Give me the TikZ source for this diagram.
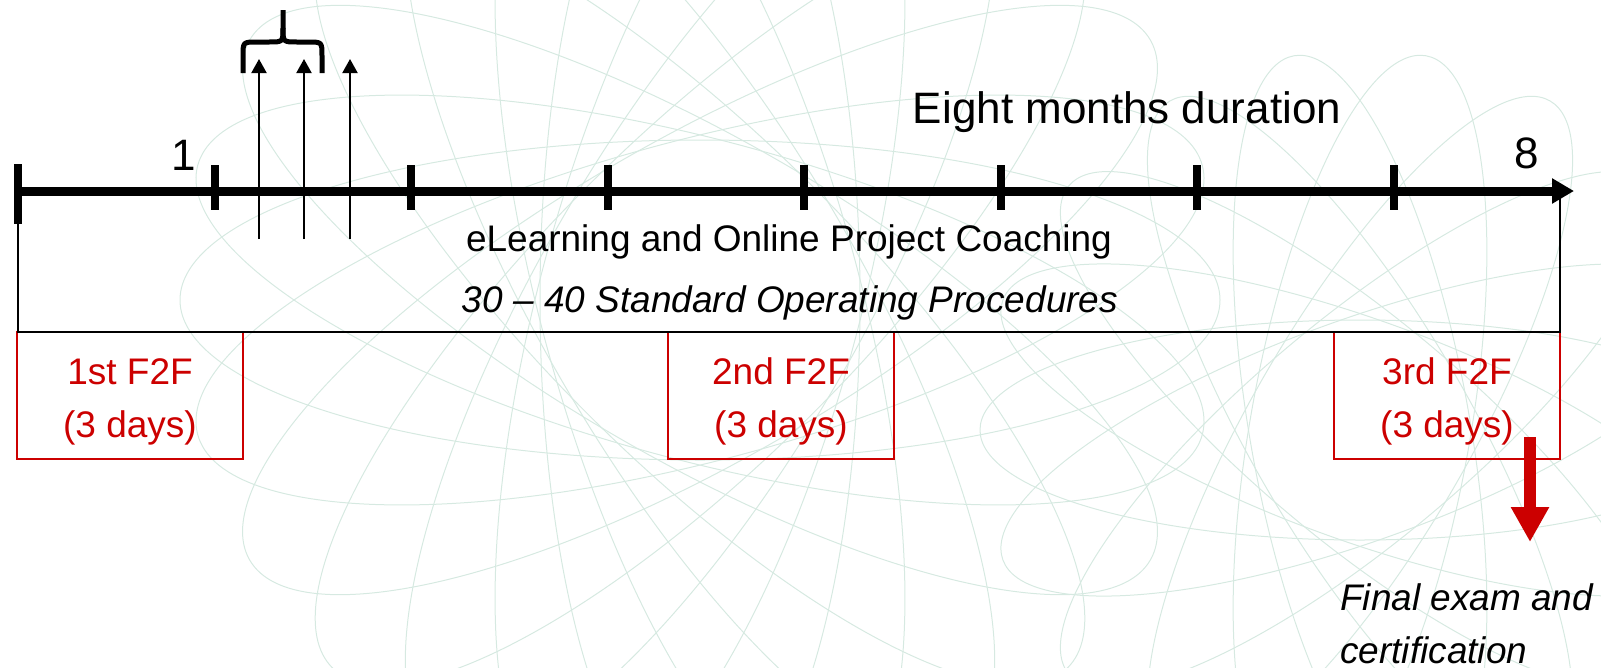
\documentclass[tikz,border=0pt]{standalone}
\usepackage{fontspec}
\setmainfont{Liberation Sans}
\usetikzlibrary{positioning,arrows.meta}

\definecolor{f2fred}{RGB}{204,0,0}
\definecolor{swirl}{RGB}{214,233,225}

\newcommand{\tlnormal}{\fontsize{37}{53}\selectfont}
\newcommand{\tlbig}{\fontsize{44}{52}\selectfont}

\tikzset{
  axisline/.style={line width=9pt,-{Triangle[width=24pt,length=22pt]}},
  tickmark/.style={line width=8pt},
  thinline/.style={line width=2pt},
  uparrow/.style={line width=2pt,-{Triangle[width=15pt,length=14pt]}},
  bracepath/.style={line width=5pt},
  f2fbox/.style={draw=f2fred,text=f2fred,line width=2pt,minimum width=226pt,
    minimum height=127pt,inner sep=0pt,outer sep=0pt,align=center,font=\tlnormal,
    text height=84pt,text depth=0pt},
  plaintext/.style={inner sep=0pt,font=\tlnormal},
  bigtext/.style={inner sep=0pt,font=\tlbig},
  examarrow/.style={draw=f2fred,line width=12pt,-{Triangle[width=36pt,length=35pt]}},
  bgline/.style={draw=swirl,line width=1pt}
}

\begin{document}
\begin{tikzpicture}[x=1pt,y=-1pt]
  \useasboundingbox (0,0) rectangle (1601,667);

  % faint swirl background
  \begin{scope}
    \clip (0,0) rectangle (1601,667);
    \foreach \a in {0,15,...,165}
      \draw[bgline,rotate around={\a:(700,300)}] (700,300) ellipse [x radius=520, y radius=160];
    \foreach \a in {0,20,...,160}
      \draw[bgline,rotate around={\a:(1360,430)}] (1360,430) ellipse [x radius=380, y radius=110];
  \end{scope}

  % time axis
  \coordinate (axstart) at (18,191);
  \coordinate (axtip) at (1574,191);
  \coordinate (axend) at (1560,191);
  \draw[axisline] (axstart) -- (axtip);
  \draw[tickmark] (18,164) coordinate (t0top) -- (18,224) coordinate (t0);
  \foreach \i in {1,...,7}
    \draw[tickmark] ({18+196.57*\i},165) -- ++(0,45);

  % month labels
  \node[bigtext,anchor=base] (mone) at (184,170) {1};
  \node[bigtext,anchor=base] (meight) at (1527,168) {8};
  \node[bigtext,anchor=base] (duration) at (1127,123) {Eight months duration};

  % first weeks arrows and brace
  \foreach \x in {259,304,350}
    \draw[uparrow] (\x,239) -- (\x,59);
  \draw[bracepath] (243,73) -- (243,56) .. controls (243,42) .. (257,42) -- (269,42)
    .. controls (283,42) .. (283,28) -- (283,10);
  \draw[bracepath] (283,28) .. controls (283,42) .. (297,42) -- (308,42)
    .. controls (322,42) .. (322,56) -- (322,73);

  % online phase
  \node[plaintext,anchor=base] (coach) at (789,251) {eLearning and Online Project Coaching};
  \node[plaintext,anchor=base,font=\tlnormal\itshape] (sops) at (790,312) {30 -- 40 Standard Operating Procedures};

  % face to face blocks
  \node[f2fbox,anchor=north west] (f2fa) at (17,332) {1st F2F\\(3 days)};
  \node[f2fbox,anchor=north west] (f2fb) at (668,332) {2nd F2F\\(3 days)};
  \node[f2fbox,anchor=north west] (f2fc) at (1334,332) {3rd F2F\\(3 days)};
  \draw[thinline] (t0) |- (f2fc.north east) -- (axend);

  % exam
  \coordinate (examtop) at (1530,437);
  \coordinate (examtip) at (1530,542);
  \draw[examarrow] (examtop) -- (examtip);
  \node[plaintext,font=\tlnormal\itshape,align=left,anchor=north west] (exam) at (1340,583)
    {Final exam and\\certification};
\end{tikzpicture}
\end{document}
